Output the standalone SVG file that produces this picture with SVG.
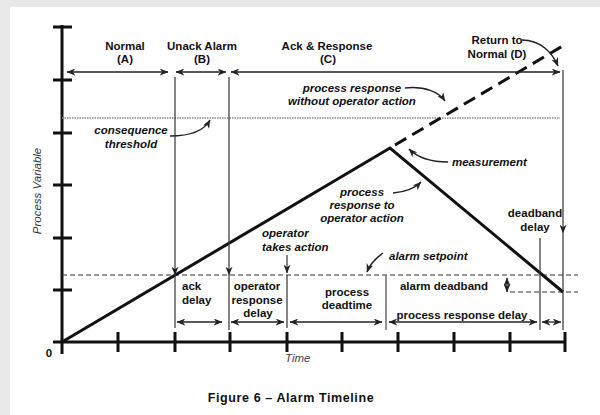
<svg xmlns="http://www.w3.org/2000/svg" width="600" height="415" viewBox="0 0 600 415">
<defs>
<style>
text{font-family:"Liberation Sans",Arial,sans-serif;font-size:11.5px;fill:#111}
.b{font-weight:bold}
.bi{font-weight:bold;font-style:italic}
.mid{text-anchor:middle}
.ax{stroke:#111;stroke-width:3;fill:none}
.thin{stroke:#333;stroke-width:1.2;fill:none}
.span{stroke:#222;stroke-width:1.3;fill:none;marker-start:url(#ah);marker-end:url(#ah)}
.dn{stroke:#333;stroke-width:1.2;fill:none;marker-end:url(#ah)}
.cv{stroke:#222;stroke-width:1.5;fill:none;marker-end:url(#ah)}
</style>
<marker id="ah" viewBox="0 0 10 8" refX="9.5" refY="4" markerWidth="9" markerHeight="7" markerUnits="userSpaceOnUse" orient="auto-start-reverse">
<path d="M0,0 L10,4 L0,8 L3,4 z" fill="#222"/>
</marker>
</defs>
<rect x="0" y="0" width="600" height="415" fill="#e8e8e8"/>
<rect x="10" y="7" width="590" height="408" fill="#fff"/>

<g id="axes">
<line class="ax" x1="62" y1="25" x2="62" y2="354"/>
<line class="ax" x1="53" y1="342" x2="566" y2="342"/>
<path class="ax" d="M53,27H72M53,80H72M53,133H72M53,185H72M53,238H72M53,290H72"/>
<path class="ax" d="M118,332V352M175,332V352M230,332V352M287,332V352M342,332V352M398,332V352M454,332V352M510,332V352M565,332V352"/>
<text class="b" x="49" y="357" text-anchor="middle">0</text>
<text x="285" y="362" font-style="italic" style="fill:#444">Time</text>
<text transform="translate(41,191) rotate(-90)" class="mid" font-style="italic" style="fill:#333">Process Variable</text>
</g>

<g id="connectors">
<line x1="62" y1="118" x2="560" y2="118" stroke="#888" stroke-width="1.3" stroke-dasharray="1.5,1"/>
<line x1="62" y1="275" x2="578" y2="275" stroke="#333" stroke-width="1.2" stroke-dasharray="5,3"/>
<line x1="510" y1="292" x2="578" y2="292" stroke="#333" stroke-width="1.2" stroke-dasharray="5,3"/>
<polyline points="62,342 390,148 563,292" fill="none" stroke="#111" stroke-width="3" stroke-linejoin="miter"/>
<line x1="395" y1="145" x2="566" y2="44" stroke="#111" stroke-width="3" stroke-dasharray="13,7"/>
<line class="span" x1="67" y1="72" x2="168" y2="72"/>
<line class="span" x1="176" y1="72" x2="226" y2="72"/>
<line class="span" x1="231" y1="72" x2="560" y2="72"/>
<line class="dn" x1="175" y1="77" x2="175" y2="275"/>
<line class="thin" x1="175" y1="275" x2="175" y2="328"/>
<line class="dn" x1="229" y1="77" x2="229" y2="275"/>
<line class="thin" x1="229" y1="275" x2="229" y2="330"/>
<line class="dn" x1="287" y1="255" x2="287" y2="273"/>
<line class="thin" x1="287" y1="275" x2="287" y2="328"/>
<line x1="386" y1="275" x2="386" y2="330" stroke="#777" stroke-width="1.6"/>
<line class="thin" x1="540" y1="238" x2="540" y2="330"/>
<line class="dn" x1="563" y1="70" x2="563" y2="233"/>
<line class="thin" x1="563" y1="233" x2="563" y2="330"/>
<line class="span" x1="177" y1="322" x2="222" y2="322"/>
<line class="span" x1="231" y1="322" x2="284" y2="322"/>
<line class="span" x1="290" y1="322" x2="382" y2="322"/>
<line class="span" x1="389" y1="322" x2="537" y2="322"/>
<line class="span" x1="542" y1="322" x2="561" y2="322"/>
<line class="span" x1="507" y1="278" x2="507" y2="292"/>
<path class="cv" d="M170,136 C190,136 204,131 210,120"/>
<path class="cv" d="M405,88 C425,86 439,92 445,101"/>
<path class="cv" d="M448,162 C430,162 417,157 409,149"/>
<path class="cv" d="M393,193 C406,192 415,188 421,182"/>
<path class="cv" d="M383,253 C376,258 370,264 367,272"/>
<path class="cv" d="M522,40 C540,40 552,52 558,66"/>
</g>

<g id="phaseA"><text class="b mid" x="125" y="50">Normal</text><text class="b mid" x="125" y="63">(A)</text></g>
<g id="phaseB"><text class="b mid" x="202" y="50">Unack Alarm</text><text class="b mid" x="202" y="63">(B)</text></g>
<g id="phaseC"><text class="b mid" x="327" y="50">Ack &amp; Response</text><text class="b mid" x="328" y="63">(C)</text></g>
<g id="phaseD"><text class="b mid" x="497" y="44">Return to</text><text class="b mid" x="497" y="58">Normal (D)</text></g>
<g id="noaction"><text class="bi mid" x="352" y="92">process response</text><text class="bi mid" x="352" y="105">without operator action</text></g>
<g id="threshold"><text class="bi mid" x="131" y="134">consequence</text><text class="bi mid" x="131" y="148">threshold</text></g>
<g id="measurement"><text class="bi" x="452" y="166">measurement</text></g>
<g id="response"><text class="bi mid" x="362" y="196">process</text><text class="bi mid" x="362" y="209">response to</text><text class="bi mid" x="362" y="222">operator action</text></g>
<g id="takesaction"><text class="bi" x="262" y="237">operator</text><text class="bi" x="262" y="251">takes action</text></g>
<g id="setpoint"><text class="bi" x="389" y="260">alarm setpoint</text></g>
<g id="deadbanddelay"><text class="b mid" x="535" y="217">deadband</text><text class="b mid" x="535" y="231">delay</text></g>
<g id="ackdelay"><text class="b" x="182" y="290">ack</text><text class="b" x="182" y="304">delay</text></g>
<g id="opdelay"><text class="b mid" x="257" y="290">operator</text><text class="b mid" x="257" y="304">response</text><text class="b mid" x="258" y="317">delay</text></g>
<g id="deadtime"><text class="b mid" x="347" y="296">process</text><text class="b mid" x="347" y="309">deadtime</text></g>
<g id="deadband"><text class="b mid" x="444" y="290">alarm deadband</text></g>
<g id="respdelay"><text class="b mid" x="462" y="319">process response delay</text></g>
<g id="caption"><text class="b mid" x="291" y="402" letter-spacing="0.6" style="font-size:12.5px">Figure 6 – Alarm Timeline</text></g>
</svg>
